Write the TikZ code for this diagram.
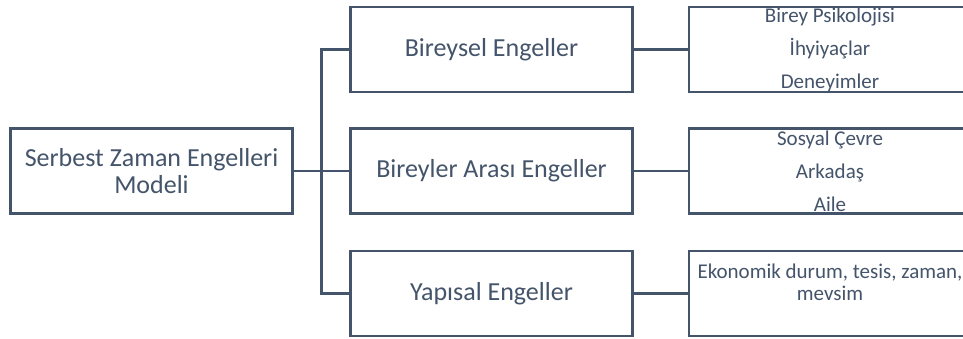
\documentclass[tikz,border=0pt]{standalone}
\usepackage{fontspec}
\setmainfont{Carlito}
\usepackage{tikz}

\definecolor{slate}{HTML}{44546A}

\begin{document}
\begin{tikzpicture}[x=1pt, y=-1pt,
    box/.style={draw=slate, line width=2.2pt, fill=white, text=slate, align=center,
      minimum width=282pt, minimum height=85pt, inner sep=0pt},
    big/.style={font=\fontsize{26}{27}\selectfont},
    small/.style={font=\fontsize{21}{33}\selectfont},
    tight/.style={font=\fontsize{21}{22}\selectfont},
    link/.style={draw=slate, line width=2.2pt}]
      % Frame:
      \clip (0,0) rectangle (963,338);
      \useasboundingbox (0,0) rectangle (963,338);
      % Boxes:
      \node[box, big] (model) at (151.5,171) {Serbest Zaman Engelleri\\Modeli};
      \node[box, big] (indiv) at (491.5,49.5) {Bireysel Engeller};
      \node[box, big] (inter) at (491.5,171) {Bireyler Aras\i{} Engeller};
      \node[box, big] (struct) at (491.5,293.5) {Yap\i{}sal Engeller};
      \node[box, small] (indivsub) at (830,49.5) {Birey Psikolojisi\\\.Ihyiya\c{c}lar\\Deneyimler};
      \node[box, small] (intersub) at (830,171) {Sosyal \c{C}evre\\Arkada\c{s}\\Aile};
      \node[box, tight] (structsub) at (830,293.5) {Ekonomik durum, tesis, zaman,\\mevsim\\\mbox{}};
      % Connectors:
      \draw[link] (model.east) -- (inter.west);
      \draw[link] (indiv.west) -- ++(-28,0) |- (struct.west);
      \draw[link] (indiv.east) -- (indivsub.west);
      \draw[link] (inter.east) -- (intersub.west);
      \draw[link] (struct.east) -- (structsub.west);
\end{tikzpicture}
\end{document}
